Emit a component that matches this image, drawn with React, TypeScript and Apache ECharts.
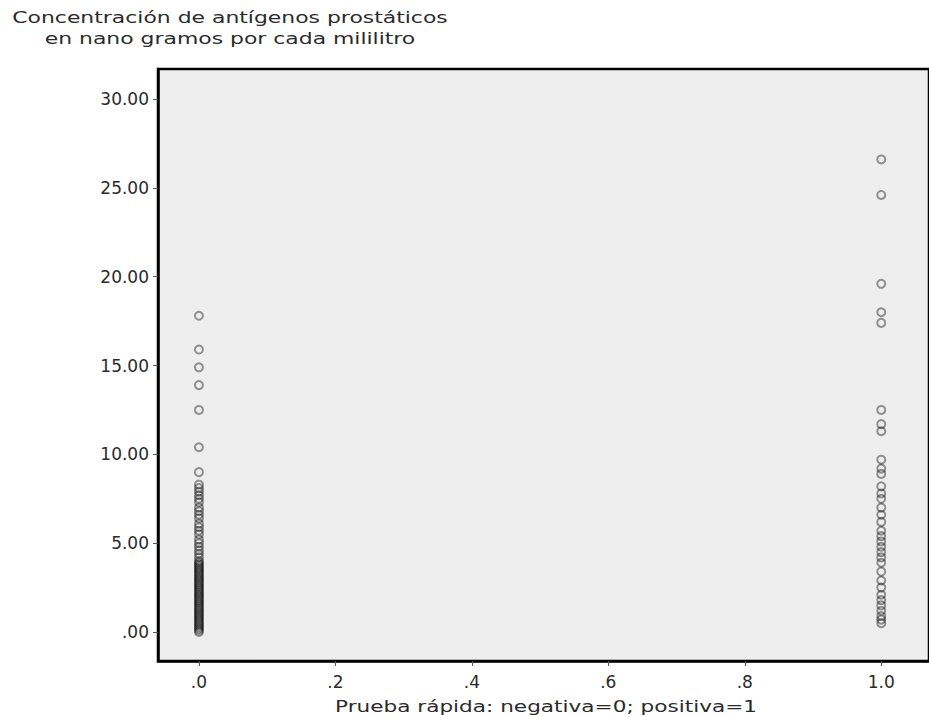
import React, { useEffect, useRef } from "react";
import * as echarts from "echarts";

const yTitle = "Concentración de antígenos prostáticos\nen nano gramos por cada mililitro";
const xTitle = "Prueba rápida: negativa=0; positiva=1";

const xTickValues = [0, 0.2, 0.4, 0.6, 0.8, 1.0];
const xTickLabels = [".0", ".2", ".4", ".6", ".8", "1.0"];
const yTickValues = [0, 5, 10, 15, 20, 25, 30];
const yTickLabels = [".00", "5.00", "10.00", "15.00", "20.00", "25.00", "30.00"];

// Prueba negativa (x = 0)
const negativeValues = [
  17.8, 15.9, 14.9, 13.9, 12.5, 10.4, 9.0, 8.3, 8.1, 7.9, 7.7, 7.5, 7.3, 7.0,
  6.8, 6.6, 6.4, 6.1, 5.9, 5.7, 5.5, 5.2, 5.0, 4.8, 4.6, 4.4, 4.2, 4.0, 3.9,
  3.8, 3.7, 3.6, 3.5, 3.4, 3.3, 3.2, 3.1, 3.0, 2.9, 2.8, 2.7, 2.6, 2.5, 2.4,
  2.3, 2.2, 2.1, 2.0, 1.9, 1.8, 1.7, 1.6, 1.5, 1.4, 1.3, 1.2, 1.1, 1.0, 0.9,
  0.8, 0.7, 0.6, 0.5, 0.4, 0.3, 0.2, 0.1, 0.0,
];

// Prueba positiva (x = 1)
const positiveValues = [
  26.6, 24.6, 19.6, 18.0, 17.4, 12.5, 11.7, 11.3, 9.7, 9.2, 8.9, 8.2, 7.8,
  7.5, 7.0, 6.6, 6.2, 5.7, 5.4, 5.1, 4.8, 4.5, 4.2, 3.9, 3.4, 2.9, 2.5, 2.1,
  1.8, 1.5, 1.2, 0.9, 0.7, 0.5,
];

const FONT = "DejaVu Sans";
const TEXT = "#2a2a2a";

export default function App() {
  const ref = useRef<HTMLDivElement>(null);
  useEffect(() => {
    if (!ref.current) return;
    const chart = echarts.init(ref.current, null, { renderer: "svg" });
    const pts = [
      ...negativeValues.map((v) => [0, v]),
      ...positiveValues.map((v) => [1, v]),
    ];
    chart.setOption({
      animation: false,
      backgroundColor: "#ffffff",
      grid: {
        left: 158,
        top: 69,
        right: -20,
        bottom: 56,
        show: true,
        backgroundColor: "#eeeeee",
        borderColor: "#000000",
        borderWidth: 2.5,
      },
      xAxis: {
        type: "value",
        min: -0.06,
        max: 1.07,
        splitLine: { show: false },
        axisLine: { show: true, onZero: false, lineStyle: { color: "#000", width: 2.5 } },
        axisTick: {
          show: true,
          customValues: xTickValues,
          length: 5,
          lineStyle: { color: "#555", width: 1 },
        },
        axisLabel: {
          customValues: xTickValues,
          formatter: (v: number) =>
            xTickLabels[xTickValues.findIndex((t) => Math.abs(t - v) < 1e-6)] ?? "",
          color: TEXT,
          fontFamily: FONT,
          fontSize: 17,
          margin: 12,
        },
      },
      yAxis: {
        type: "value",
        min: -1.63,
        max: 31.69,
        splitLine: { show: false },
        axisLine: { show: true, onZero: false, lineStyle: { color: "#000", width: 2.5 } },
        axisTick: {
          show: true,
          customValues: yTickValues,
          length: 5,
          lineStyle: { color: "#555", width: 1 },
        },
        axisLabel: {
          customValues: yTickValues,
          formatter: (v: number) =>
            yTickLabels[yTickValues.findIndex((t) => Math.abs(t - v) < 1e-6)] ?? "",
          color: TEXT,
          fontFamily: FONT,
          fontSize: 17,
          margin: 9,
        },
      },
      graphic: [
        {
          type: "text",
          x: 230,
          y: 28,
          scaleX: 1.37,
          style: {
            text: yTitle,
            fill: TEXT,
            font: `16px "${FONT}"`,
            align: "center",
            verticalAlign: "middle",
            lineHeight: 21,
          },
        },
        {
          type: "text",
          x: 546,
          y: 706,
          scaleX: 1.35,
          style: {
            text: xTitle,
            fill: TEXT,
            font: `16px "${FONT}"`,
            align: "center",
            verticalAlign: "middle",
          },
        },
      ],
      series: [
        {
          type: "scatter",
          data: pts,
          symbol: "circle",
          symbolSize: 8,
          itemStyle: {
            color: "transparent",
            borderColor: "rgba(0,0,0,0.5)",
            borderWidth: 2,
          },
        },
      ],
    });
    return () => chart.dispose();
  }, []);
  return (
    <div
      ref={ref}
      style={{ position: "fixed", left: 0, top: 0, width: 929, height: 717 }}
    />
  );
}
